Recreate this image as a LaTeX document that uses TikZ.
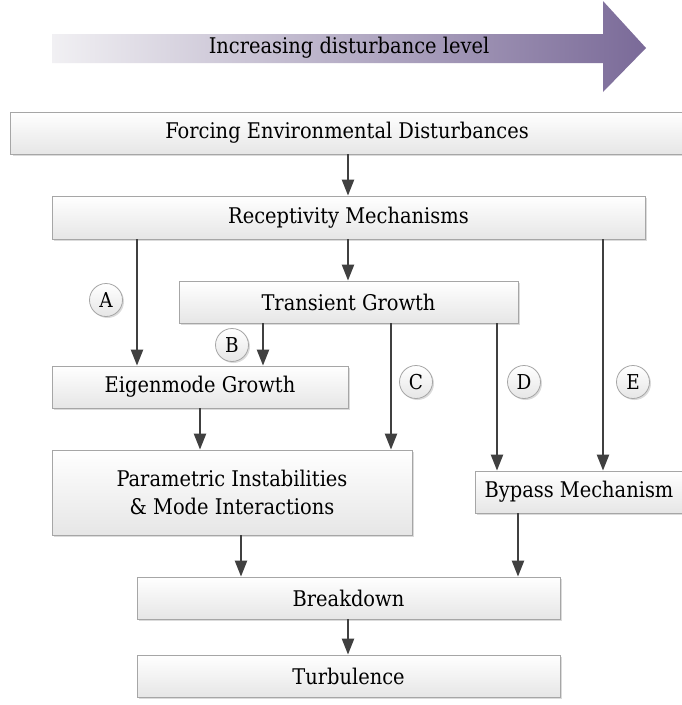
\documentclass[tikz,border=0pt]{standalone}
\usepackage{fontspec}
\setmainfont{DejaVu Serif Condensed}
\usetikzlibrary{arrows.meta,shadows,shapes.geometric}
\definecolor{arrowgray}{HTML}{404040}
\definecolor{boxborder}{HTML}{A6A6A6}
\definecolor{boxbottom}{HTML}{E6E6E6}
\definecolor{purplestart}{HTML}{F1F0F3}
\definecolor{purpleend}{HTML}{7A6A98}
\tikzset{
  flowbox/.style={draw=boxborder, line width=0.8pt, top color=white, bottom color=boxbottom,
    drop shadow={shadow xshift=2pt, shadow yshift=-2pt, fill=black, opacity=0.14},
    font=\fontsize{21.6}{28}\selectfont, align=center, inner sep=0pt},
  tag/.style={circle, draw=boxborder, line width=0.8pt, top color=white, bottom color=boxbottom,
    drop shadow={shadow xshift=1.5pt, shadow yshift=-1.5pt, fill=black, opacity=0.14},
    minimum size=33pt, inner sep=0pt, font=\fontsize{20.5}{22}\selectfont},
  flowarrow/.style={draw=arrowgray, line width=2.4pt, -{Triangle[length=16pt,width=12pt]}}
}
\begin{document}
\begin{tikzpicture}[x=1pt,y=1pt]
\useasboundingbox (0,0) rectangle (681,-705);
\fill[white] (0,0) rectangle (681,-705);
% big arrow
\shade[left color=purplestart, right color=purpleend]
  (52,-34) -- (603,-34) -- (603,-1) -- (646,-48) -- (603,-92) -- (603,-63) -- (52,-63) -- cycle;
\node[font=\fontsize{21.6}{25}\selectfont] (title) at (349,-48) {Increasing disturbance level};
% boxes
\node[flowbox, minimum width=673pt, minimum height=42pt] (forcing) at (347,-133) {Forcing Environmental Disturbances};
\node[flowbox, minimum width=593pt, minimum height=43pt] (recept) at (348.5,-217.5) {Receptivity Mechanisms};
\node[flowbox, minimum width=339pt, minimum height=42pt] (trans) at (348.5,-302) {Transient Growth};
\node[flowbox, minimum width=296pt, minimum height=42pt] (eigen) at (200,-387) {Eigenmode Growth};
\node[flowbox, minimum width=360pt, minimum height=85pt] (param) at (232,-492.5) {Parametric Instabilities\\\& Mode Interactions};
\node[flowbox, minimum width=208pt, minimum height=42pt] (bypass) at (579,-492) {Bypass Mechanism};
\node[flowbox, minimum width=423pt, minimum height=42pt] (brk) at (348.5,-598) {Breakdown};
\node[flowbox, minimum width=423pt, minimum height=42pt] (turb) at (348.5,-676) {Turbulence};
% arrows
\draw[flowarrow] (forcing.south -| 348,0) -- (recept.north -| 348,0);
\draw[flowarrow] (recept.south -| 137,0) -- (eigen.north -| 137,0);
\draw[flowarrow] (recept.south -| 348,0) -- (trans.north -| 348,0);
\draw[flowarrow] (recept.south -| 603,0) -- (bypass.north -| 603,0);
\draw[flowarrow] (trans.south -| 263,0) -- (eigen.north -| 263,0);
\draw[flowarrow] (trans.south -| 391,0) -- (param.north -| 391,0);
\draw[flowarrow] (trans.south -| 497,0) -- (bypass.north -| 497,0);
\draw[flowarrow] (eigen.south -| 200,0) -- (param.north -| 200,0);
\draw[flowarrow] (param.south -| 241,0) -- (brk.north -| 241,0);
\draw[flowarrow] (bypass.south -| 518,0) -- (brk.north -| 518,0);
\draw[flowarrow] (brk.south -| 348,0) -- (turb.north -| 348,0);
% tags
\node[tag] (tA) at (106,-300) {A};
\node[tag] (tB) at (232,-345) {B};
\node[tag] (tC) at (416,-382) {C};
\node[tag] (tD) at (524,-382) {D};
\node[tag] (tE) at (633,-382) {E};
\end{tikzpicture}
\end{document}
